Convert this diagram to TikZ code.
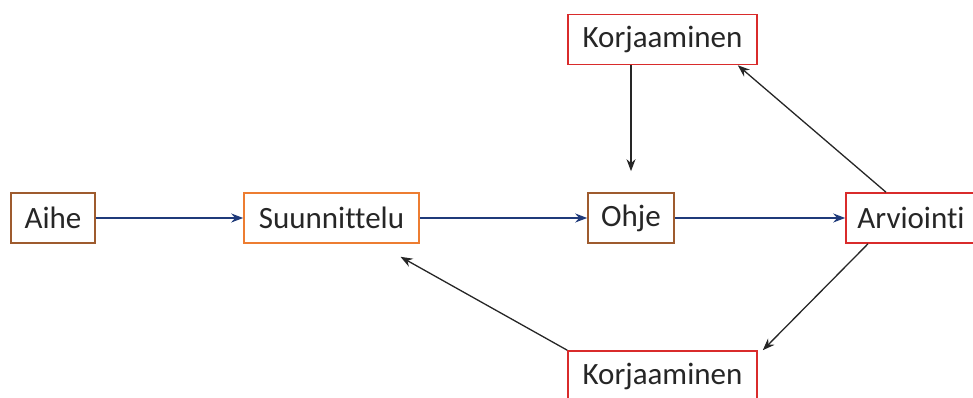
\documentclass[tikz,border=0pt]{standalone}
\usepackage{fontspec}
\setmainfont{Carlito}[Ligatures=NoCommon]
\usetikzlibrary{arrows.meta}
\definecolor{ruskea}{HTML}{9E5B2E}
\definecolor{oranssi}{HTML}{ED7D31}
\definecolor{punainen}{HTML}{D92B2B}
\definecolor{laivasto}{HTML}{1F3A7A}
\definecolor{teksti}{HTML}{262626}
\begin{document}
\begin{tikzpicture}[x=1pt,y=1pt,
  laatikko/.style={draw,line width=1.6pt,fill=white,text=teksti,minimum height=50pt,
    inner sep=0pt,font=\fontsize{31}{36}\selectfont},
  sininuoli/.style={draw=laivasto,line width=1.4pt,-{Stealth[length=12pt,width=9pt]}},
  mustanuoli/.style={draw=black!85,line width=1.3pt,-{Stealth[length=12pt,width=9pt]}}]
\useasboundingbox (0,0) rectangle (973,398);
\node[laatikko,draw=ruskea,minimum width=84pt] (aihe) at (53,180) {Aihe};
\node[laatikko,draw=oranssi,minimum width=175pt] (suun) at (331.5,180) {Suunnittelu};
\node[laatikko,draw=ruskea,minimum width=86pt] (ohje) at (631,180) {Ohje};
\node[laatikko,draw=punainen,minimum width=130pt] (arvi) at (911,180) {Arviointi};
\node[laatikko,draw=punainen,minimum width=189pt] (korj1) at (662.5,358.5) {Korjaaminen};
\node[laatikko,draw=punainen,minimum width=189pt] (korj2) at (662.5,22) {Korjaaminen};
\draw[sininuoli] (aihe) -- (suun);
\draw[sininuoli] (suun) -- (ohje);
\draw[sininuoli] (ohje) -- (arvi);
\draw[mustanuoli,shorten >=21pt] (korj1.south -| ohje.north) -- (ohje.north);
\draw[mustanuoli] ([xshift=-25pt]arvi.north) -- ([xshift=-20pt]korj1.south east);
\draw[mustanuoli] ([xshift=-43pt]arvi.south) -- ([xshift=5pt]korj2.north east);
\draw[mustanuoli] (korj2.north west) -- ([shift={(69pt,-13pt)}]suun.south);
\end{tikzpicture}
\end{document}
